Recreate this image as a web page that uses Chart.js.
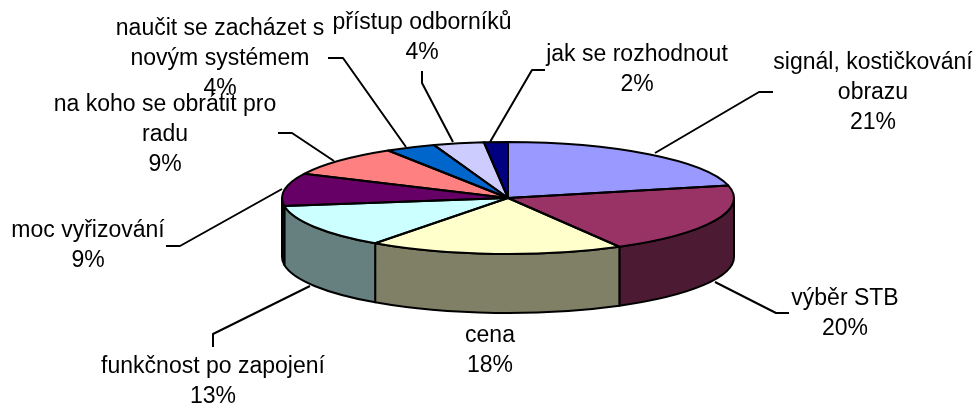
<!DOCTYPE html>
<html>
<head>
<meta charset="utf-8">
<style>html,body{margin:0;padding:0;background:#fff;overflow:hidden}canvas{display:block}</style>
<script src="https://cdn.jsdelivr.net/npm/chart.js@4/dist/chart.umd.min.js"></script>
</head>
<body>
<canvas id="c" width="974" height="403"></canvas>
<script>
const categories = ["signál, kostičkování obrazu","výběr STB","cena","funkčnost po zapojení","moc vyřizování","na koho se obrátit pro radu","naučit se zacházet s novým systémem","přístup odborníků","jak se rozhodnout"];
const values = [21.4, 20.4, 18.2, 12.7, 9.4, 9, 3.6, 3.6, 1.7];
const colors = ["#9999FF","#993366","#FFFFCC","#CCFFFF","#660066","#FF8080","#0066CC","#CCCCFF","#000080"];

const view = {cx:508, cy:198, rx:226, ry:56, depth:59};
const font = '23px "Liberation Sans", Arial, sans-serif';
// Label placement: x centre, first baseline, words on each name line, leader polyline
const layout = [
 {x:873,y:69,words:[2,1],line:[[773,92],[759,92],[655,153]]},
 {x:845,y:305,words:[2],line:[[789,313],[776,313],[715,282]]},
 {x:490,y:342,words:[1],line:null},
 {x:213,y:373,words:[3],line:[[213,347],[213,334],[310,286]]},
 {x:88,y:237,words:[2],line:[[166,246],[180,246],[282,189]]},
 {x:165,y:111,words:[5,1],line:[[278,133],[292,133],[334,161]]},
 {x:220,y:35,words:[4,2],line:[[328,58],[343,58],[406,147]]},
 {x:422,y:29,words:[2],line:[[422,71],[422,83],[453,142]]},
 {x:637,y:61,words:[3],line:[[545,70],[532,70],[490,142]]}
];

function shade(hex){
  const n=parseInt(hex.slice(1),16);
  const h=v=>Math.round(v/2);
  return `rgb(${h(n>>16&255)},${h(n>>8&255)},${h(n&255)})`;
}

const pie3d = {
  id:'pie3d',
  beforeDatasetsDraw(chart){
    const ctx=chart.ctx, v=view;
    const arcs=chart.getDatasetMeta(0).data;
    ctx.save();
    ctx.lineWidth=2; ctx.strokeStyle='#000'; ctx.lineJoin='round';
    arcs.forEach((a,i)=>{
      const lo=Math.max(a.startAngle,0), hi=Math.min(a.endAngle,Math.PI);
      if(lo>=hi) return;
      ctx.beginPath();
      ctx.ellipse(v.cx,v.cy,v.rx,v.ry,0,lo,hi);
      ctx.ellipse(v.cx,v.cy+v.depth,v.rx,v.ry,0,hi,lo,true);
      ctx.closePath();
      ctx.fillStyle=shade(colors[i]);
      ctx.fill(); ctx.stroke();
    });
    ctx.restore();
  },
  beforeDatasetDraw(chart){
    const ctx=chart.ctx, v=view;
    const a=chart.getDatasetMeta(0).data[0];
    ctx.save();
    ctx.translate(v.cx,v.cy);
    ctx.scale(v.rx/a.outerRadius,v.ry/a.outerRadius);
    ctx.translate(-a.x,-a.y);
  },
  afterDatasetDraw(chart){ chart.ctx.restore(); },
  afterDatasetsDraw(chart){
    const ctx=chart.ctx, v=view;
    const arcs=chart.getDatasetMeta(0).data;
    ctx.save();
    ctx.lineWidth=2; ctx.strokeStyle='#000'; ctx.lineJoin='round';
    arcs.forEach(a=>{
      ctx.beginPath();
      ctx.moveTo(v.cx,v.cy);
      ctx.ellipse(v.cx,v.cy,v.rx,v.ry,0,a.startAngle,a.endAngle);
      ctx.closePath();
      ctx.stroke();
    });
    layout.forEach(l=>{
      if(!l.line) return;
      ctx.beginPath();
      l.line.forEach((p,i)=> i?ctx.lineTo(p[0],p[1]):ctx.moveTo(p[0],p[1]));
      ctx.stroke();
    });
    ctx.fillStyle='#000'; ctx.font=font; ctx.textAlign='center'; ctx.textBaseline='alphabetic';
    layout.forEach((l,i)=>{
      const words=categories[i].split(' ');
      let k=0; const lines=l.words.map(n=>{const s=words.slice(k,k+n).join(' ');k+=n;return s;});
      lines.push(Math.round(values[i])+'%');
      lines.forEach((t,j)=>ctx.fillText(t,l.x,l.y+j*30));
    });
    ctx.restore();
  }
};

new Chart(document.getElementById('c'),{
  type:'pie',
  data:{labels:categories,datasets:[{data:values,backgroundColor:colors,borderWidth:0}]},
  options:{responsive:false,animation:false,
    plugins:{legend:{display:false},tooltip:{enabled:false}}},
  plugins:[pie3d]
});
</script>
</body>
</html>
